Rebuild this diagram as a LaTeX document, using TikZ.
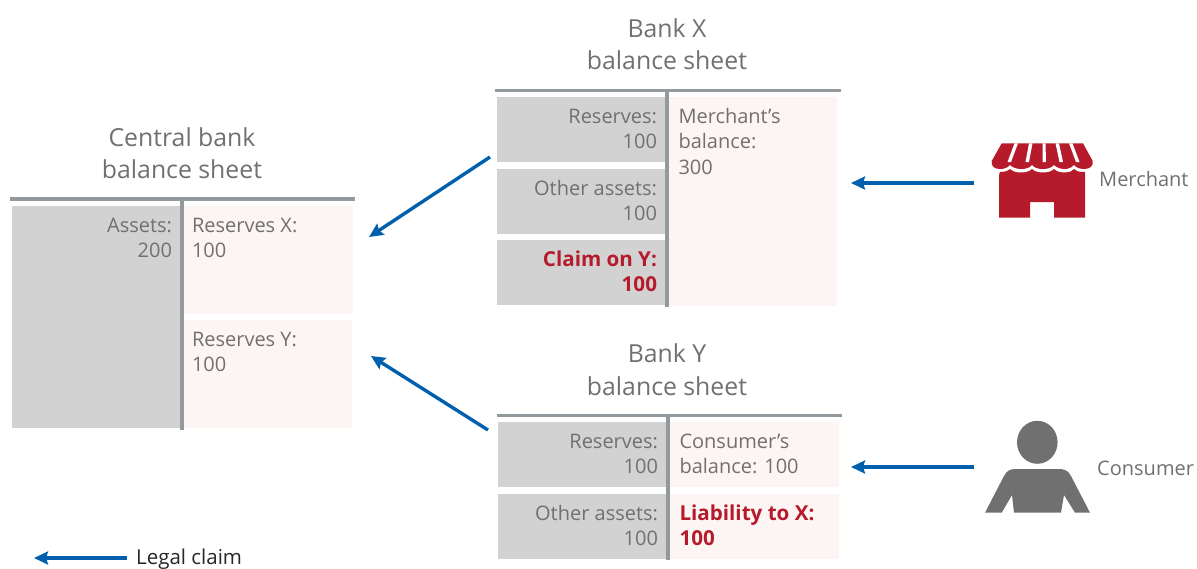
\documentclass[tikz,border=0pt]{standalone}
\usepackage{fontspec}
\setmainfont{Open Sans}
\usetikzlibrary{arrows.meta}
\definecolor{txt}{HTML}{707070}
\definecolor{rulec}{HTML}{939A9E}
\definecolor{assetc}{HTML}{D2D2D2}
\definecolor{liabc}{HTML}{FDF5F3}
\definecolor{redc}{HTML}{B51B2B}
\definecolor{bluec}{HTML}{0060AE}
\newcommand{\cellfont}{\fontsize{20}{25.5}\selectfont}
\newcommand{\boldcell}{\fontsize{20.6}{25.5}\selectfont\bfseries\color{redc}}
\newcommand{\cellL}[3]{\parbox[t][#2pt][t]{#1pt}{\cellfont\raggedleft\strut #3}}
\newcommand{\cellR}[3]{\parbox[t][#2pt][t]{#1pt}{\cellfont\raggedright\strut #3}}
\tikzset{
  x=1pt,y=-1pt,
  cell/.style={anchor=north west,inner xsep=8pt,inner ysep=8.5pt,outer sep=0pt,text=txt},
  asset/.style={cell,fill=assetc},
  liab/.style={cell,fill=liabc},
  bankliab/.style={liab,inner xsep=9.5pt},
  title/.style={align=center,text=txt,font=\fontsize{24.8}{32.5}\selectfont},
  sheetrule/.style={draw=rulec,line width=3.6pt},
  claim/.style={draw=bluec,line width=3.4pt,-{Stealth[length=14pt,width=13pt,inset=2pt]}},
  caption/.style={anchor=base west,text=txt,font=\fontsize{20}{23}\selectfont,inner sep=0pt},
}
\begin{document}
\begin{tikzpicture}
\useasboundingbox (0,0) rectangle (1197,568);
% Central bank
\node[title] (ctitle) at (182,153) {Central bank\\balance sheet};
\node[asset] (cassets) at (12,206) {\cellL{152}{205}{Assets:\\200}};
\node[liab] (cresx) at (184,206) {\cellR{153}{91}{Reserves X:\\100}};
\node[liab] (cresy) at (184,320) {\cellR{152}{91}{Reserves Y:\\100}};
\coordinate (ch1) at (10,199); \coordinate (ch2) at (355,199);
\coordinate (cv1) at (182,199); \coordinate (cv2) at (182,430);
\draw[sheetrule] (ch1) -- (ch2);
\draw[sheetrule] (cv1) -- (cv2);
% Bank X
\node[title] (xtitle) at (667,44) {Bank X\\balance sheet};
\node[asset] (xres) at (497,97) {\cellL{152}{48}{Reserves:\\100}};
\node[asset] (xother) at (497,169) {\cellL{152}{48}{Other assets:\\100}};
\node[asset] (xclaim) at (497,240) {\cellL{152}{48}{\boldcell Claim on Y:\\100}};
\node[bankliab] (xmerch) at (669,97) {\cellR{149}{192}{Merchant’s\\balance:\\300}};
\coordinate (xh1) at (495,90.5); \coordinate (xh2) at (841,90.5);
\coordinate (xv1) at (667,90.5); \coordinate (xv2) at (667,307);
\draw[sheetrule] (xh1) -- (xh2);
\draw[sheetrule] (xv1) -- (xv2);
% Bank Y
\node[title] (ytitle) at (667,369.5) {Bank Y\\balance sheet};
\node[asset] (yres) at (498,422) {\cellL{152}{48}{Reserves:\\100}};
\node[asset] (yother) at (498,494) {\cellL{152}{48}{Other assets:\\100}};
\node[bankliab] (ycons) at (670,422) {\cellR{150}{48}{Consumer’s\\balance: 100}};
\node[bankliab] (yliab) at (670,494) {\cellR{150}{48}{\boldcell Liability to X:\\100}};
\coordinate (yh1) at (497,415.5); \coordinate (yh2) at (842,415.5);
\coordinate (yv1) at (668,415.5); \coordinate (yv2) at (668,560);
\draw[sheetrule] (yh1) -- (yh2);
\draw[sheetrule] (yv1) -- (yv2);
% Merchant icon
\fill[redc] (1001.7,143.3) -- (1083,143.3) -- (1092.7,161)
  .. controls (1093.5,166) and (1090,169) .. (1084,169)
  .. controls (1079,169) and (1076,167) .. (1074,165)
  .. controls (1071,168) and (1068,169) .. (1064,169)
  .. controls (1060,169) and (1056,167) .. (1054,165)
  .. controls (1051,168) and (1048,169) .. (1042,169)
  .. controls (1037,169) and (1034,167) .. (1032,165)
  .. controls (1029,168) and (1026,169) .. (1021,169)
  .. controls (1016,169) and (1012,167) .. (1010,165)
  .. controls (1007,168) and (1004,169) .. (1000,169)
  .. controls (994,169) and (991,166) .. (991.7,161) -- cycle;
\fill[redc] (999,175) -- (1000,172)
  .. controls (1004,172) and (1008,171) .. (1010,169)
  .. controls (1013,172) and (1017,172.5) .. (1021,172.5)
  .. controls (1025,172.5) and (1029,172) .. (1032,169)
  .. controls (1035,172) and (1039,172.5) .. (1043,172.5)
  .. controls (1047,172.5) and (1051,172) .. (1054,169)
  .. controls (1057,172) and (1061,172.5) .. (1065,172.5)
  .. controls (1068,172.5) and (1071,172) .. (1074,169)
  .. controls (1077,172) and (1081,172) .. (1085,172)
  -- (1085,217.7) -- (1054,217.7) -- (1054,202) -- (1030,202) -- (1030,217.7) -- (999,217.7) -- cycle;
\fill[white] (1014.5,143.3) -- (1018,143.3) -- (1011,162) -- (1007.5,162) -- cycle;
\fill[white] (1029,143.3) -- (1032.5,143.3) -- (1029,162) -- (1025.5,162) -- cycle;
\fill[white] (1042.5,143.3) -- (1045.5,143.3) -- (1046,162) -- (1042.5,162) -- cycle;
\fill[white] (1055.5,143.3) -- (1059,143.3) -- (1063,162) -- (1059.5,162) -- cycle;
\fill[white] (1069,143.3) -- (1072.5,143.3) -- (1079.5,162) -- (1076,162) -- cycle;
\node[caption] (merchant) at (1099,186) {Merchant};
% Consumer icon
\fill[txt] (1037.3,442.3) ellipse [x radius=20.3,y radius=21.5];
\fill[txt] (985,512.7) -- (1004,476) .. controls (1007,470) and (1011,469) .. (1016,469)
  -- (1058,469) .. controls (1064,469) and (1068,470) .. (1071,476)
  -- (1090,512.7) -- (1075,512.7) -- (1064,495) -- (1061,512.7) -- (1014,512.7) -- (1012,495) -- (1001.7,512.7) -- cycle;
\node[caption] (consumer) at (1097,475) {Consumer};
% Claim arrows
\coordinate (a1s) at (490,157); \coordinate (a1e) at (369,237);
\coordinate (a2s) at (488,430); \coordinate (a2e) at (371,356);
\coordinate (a3s) at (974,183); \coordinate (a3e) at (851,183);
\coordinate (a4s) at (974,467); \coordinate (a4e) at (851,467);
\draw[claim] (a1s) -- (a1e);
\draw[claim] (a2s) -- (a2e);
\draw[claim] (a3s) -- (a3e);
\draw[claim] (a4s) -- (a4e);
% Legend
\coordinate (ls) at (127,558); \coordinate (le) at (34,558);
\draw[claim] (ls) -- (le);
\node[caption,text=black!85,font=\fontsize{20.5}{23}\selectfont] (legal) at (136,564) {Legal claim};
\end{tikzpicture}
\end{document}
